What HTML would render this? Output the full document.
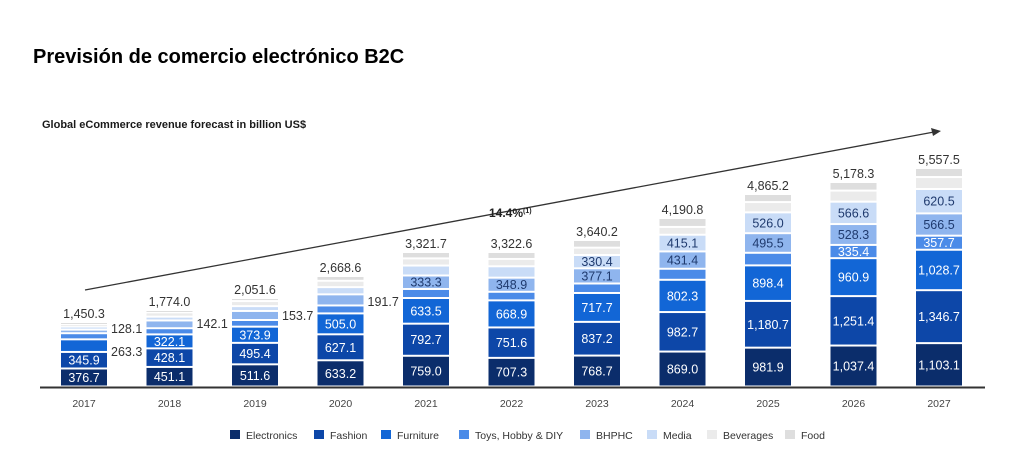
<!DOCTYPE html>
<html><head><meta charset="utf-8"><style>
body{margin:0;background:#fff;width:1024px;height:450px;overflow:hidden;font-family:"Liberation Sans",sans-serif}
</style></head><body>
<svg id="s" width="1024" height="450" xmlns="http://www.w3.org/2000/svg" font-family="Liberation Sans, DejaVu Sans, sans-serif">
<text x="33" y="63" font-size="20" font-weight="bold" fill="#000">Previsión de comercio electrónico B2C</text>
<text x="42" y="128" font-size="11" font-weight="bold" fill="#1a1a1a">Global eCommerce revenue forecast in billion US$</text>
<line x1="85" y1="290" x2="934" y2="132" stroke="#333" stroke-width="1.3"/>
<polygon points="941,131 931,128 933,136" fill="#333"/>
<text x="489" y="217" font-size="12" font-weight="bold" fill="#222">14.4%<tspan font-size="7" dy="-4">(1)</tspan></text>
<line x1="40" y1="387.5" x2="985" y2="387.5" stroke="#333" stroke-width="2"/>
<g id="bars"></g>
<g font-size="10.5" fill="#333" id="leg"></g>
</svg>
<script>
var D=[[2017,1450.3,322,[376.7,345.9,263.3,128.1,75.0,65.6,48.9,45.0]],
[2018,1774.0,310,[451.1,428.1,322.1,142.1,179.2,88.2,98.6,54.6]],
[2019,2051.6,298,[511.6,495.4,373.9,153.7,208.5,111.7,116.6,70.8]],
[2020,2668.6,276,[633.2,627.1,505.0,191.7,268.4,174.5,153.1,115.6]],
[2021,3321.7,252,[759.0,792.7,633.5,223.1,333.3,245.6,176.3,158.2]],
[2022,3322.6,252,[707.3,751.6,668.9,212.0,348.9,281.0,181.1,172.0]],
[2023,3640.2,240,[768.7,837.2,717.7,236.0,377.1,330.4,182.6,190.5]],
[2024,4190.8,218,[869.0,982.7,802.3,274.4,431.4,415.1,193.8,222.1]],
[2025,4865.2,194,[981.9,1180.7,898.4,318.5,495.5,526.0,259.8,204.4]],
[2026,5178.3,182,[1037.4,1251.4,960.9,335.4,528.3,566.6,280.3,217.9]],
[2027,5557.5,168,[1103.1,1346.7,1028.7,357.7,566.5,620.5,303.9,230.3]]];
var C=["#0b2d6b","#0d47a8","#1266d6","#4b8be8","#8fb5ee","#c9dcf7","#ebebeb","#dedede"];
var TC=["#fff","#fff","#fff","#fff","#1f3a6e","#1f3a6e","#333","#333"];
function f(v){return v.toFixed(1).replace(/\B(?=(\d{3})+(?!\d))/g,",");}
var h='',base=386.5;
D.forEach(function(d,i){var cx=84+i*85.5,y=base,tot=0;d[3].forEach(function(v){tot+=v});
 var k=(base-d[2])/tot;
 d[3].forEach(function(v,j){var hh=v*k;y-=hh;
  h+='<rect x="'+(cx-23)+'" y="'+(y+1)+'" width="46" height="'+Math.max(hh-2,1)+'" fill="'+C[j]+'"/>';
  if(hh>13)h+='<text x="'+cx+'" y="'+(y+hh/2+4.5)+'" font-size="12.5" text-anchor="middle" fill="'+TC[j]+'">'+f(v)+'</text>';
  else if(i<4&&(j==2||j==3))h+='<text x="'+(cx+27)+'" y="'+(y+hh/2+4.5+(j==3?-8:6))+'" font-size="12.5" fill="#333">'+f(v)+'</text>';
 });
 h+='<text x="'+cx+'" y="'+(y-4)+'" font-size="12.5" text-anchor="middle" fill="#333">'+f(d[1])+'</text>';
 h+='<text x="'+cx+'" y="407" font-size="10.5" text-anchor="middle" fill="#444">'+d[0]+'</text>';
});
document.getElementById('bars').innerHTML=h;
var L=[["Electronics",230],["Fashion",314],["Furniture",381],["Toys, Hobby & DIY",459],["BHPHC",580],["Media",647],["Beverages",707],["Food",785]];
var g='';L.forEach(function(l,j){g+='<rect x="'+l[1]+'" y="430" width="10" height="9" fill="'+C[j]+'"/><text x="'+(l[1]+16)+'" y="439">'+l[0].replace('&','&amp;')+'</text>';});
document.getElementById('leg').innerHTML=g;
</script>
</body></html>
